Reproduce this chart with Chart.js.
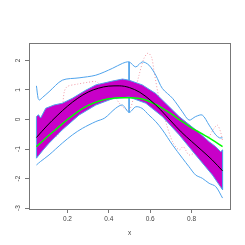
<!DOCTYPE html>
<html>
<head>
<meta charset="utf-8">
<script src="https://cdn.jsdelivr.net/npm/chart.js@4.4.1/dist/chart.umd.min.js"></script>
<style>
  body { margin: 0; background: #fff; }
</style>
</head>
<body>
<canvas id="chart1" width="245" height="245"></canvas>
<script>
// ticks
const xTicks = [0.2, 0.4, 0.6, 0.8];
const yTicks = [-3, -2, -1, 0, 1, 2];

// smooth curves on a common grid
const xGrid = [0.05, 0.10, 0.15, 0.20, 0.25, 0.30, 0.35, 0.40, 0.45, 0.50,
               0.55, 0.60, 0.65, 0.70, 0.75, 0.80, 0.85, 0.90, 0.95];
const meanY = [-0.61, -0.22, 0.13, 0.45, 0.72, 0.93, 1.06, 1.13, 1.14, 1.08,
               0.92, 0.66, 0.33, -0.05, -0.42, -0.74, -1.05, -1.37, -1.74];
const greenY = [-0.92, -0.60, -0.30, 0.00, 0.27, 0.48, 0.62, 0.70, 0.74, 0.74,
                0.71, 0.60, 0.42, 0.20, -0.05, -0.28, -0.48, -0.69, -0.92];

// magenta band (upper edge, lower edge)
const bandUpX = [0.05, 0.06, 0.07, 0.095, 0.135, 0.175, 0.224, 0.288, 0.337, 0.417, 0.466, 0.498,
                 0.562, 0.627, 0.659, 0.74, 0.82, 0.885, 0.917, 0.941, 0.95];
const bandUpY = [0.10, 0.16, 0.05, 0.38, 0.49, 0.55, 0.72, 0.99, 1.17, 1.30, 1.37, 1.33,
                 1.17, 0.88, 0.66, 0.10, -0.35, -0.75, -0.92, -1.09, -1.03];
const bandLoX = [0.05, 0.08, 0.111, 0.175, 0.256, 0.337, 0.417, 0.498, 0.579, 0.659, 0.74, 0.82, 0.901, 0.95];
const bandLoY = [-1.31, -1.05, -0.80, -0.35, 0.15, 0.49, 0.70, 0.76, 0.55, 0.10, -0.52, -1.20, -1.88, -2.38];

// outer blue curves
const upX = [0.05, 0.058, 0.064, 0.08, 0.111, 0.175, 0.256, 0.337, 0.417, 0.466, 0.498, 0.53, 0.562,
             0.594, 0.627, 0.659, 0.708, 0.756, 0.788, 0.82, 0.852, 0.885, 0.917, 0.935, 0.95];
const upY = [1.14, 0.72, 0.66, 0.75, 0.94, 1.33, 1.41, 1.50, 1.73, 1.90, 1.95, 1.78, 1.95,
             1.84, 1.50, 1.05, 0.72, 0.26, -0.02, 0.10, 0.15, -0.19, -0.52, -0.62, -0.62];
const loX = [0.05, 0.07, 0.111, 0.175, 0.224, 0.272, 0.337, 0.38, 0.433, 0.466, 0.498, 0.53, 0.56,
             0.594, 0.627, 0.659, 0.708, 0.756, 0.788, 0.82, 0.852, 0.885, 0.917, 0.95];
const loY = [-1.54, -1.42, -1.20, -0.80, -0.52, -0.30, -0.07, 0.05, 0.38, 0.49, 0.24, 0.43, 0.38,
             0.15, -0.07, -0.35, -0.86, -1.31, -1.60, -1.88, -1.99, -2.16, -2.27, -2.66];
const splitX = 0.498;

// dotted red observations
const obsX = [0.05, 0.08, 0.10, 0.125, 0.15, 0.165, 0.175, 0.185, 0.20, 0.25, 0.30, 0.337, 0.37, 0.40,
              0.433, 0.466, 0.498, 0.52, 0.546, 0.57, 0.59, 0.607, 0.619, 0.643, 0.675, 0.708, 0.74,
              0.76, 0.788, 0.82, 0.85, 0.885, 0.909, 0.925, 0.94, 0.95];
const obsY = [-1.00, -0.75, -0.65, -0.62, -0.55, -0.35, 0.30, 0.95, 1.12, 1.20, 1.26, 1.28, 1.10, 0.95,
              0.72, 0.43, 0.32, 0.75, 1.50, 2.07, 2.25, 2.10, 1.62, 0.72, -0.07, -0.75, -1.03,
              -0.92, -1.20, -1.09, -0.85, -0.58, -0.30, -0.19, -0.41, -0.72];

const pts = (xs, ys) => xs.map((x, i) => ({ x: x, y: ys[i] }));
const bandPts = pts(bandUpX, bandUpY).concat(pts(bandLoX, bandLoY).reverse());
bandPts.push(bandPts[0]);

const blue = '#4FA3EC';
const axisFont = { family: "'Liberation Sans', Arial, sans-serif", size: 6.5 };

// R style box round the plot region
const boxPlugin = {
    id: 'box',
    afterDatasetsDraw(chart) {
        const a = chart.chartArea;
        const c = chart.ctx;
        c.save();
        c.strokeStyle = '#777';
        c.lineWidth = 1;
        c.strokeRect(Math.round(a.left) + 0.5, Math.round(a.top) + 0.5,
                     Math.round(a.right - a.left), Math.round(a.bottom - a.top));
        c.restore();
    }
};

const ctx1 = document.getElementById('chart1').getContext('2d');
const myChart1 = new Chart(ctx1, {
    type: 'line',
    data: {
        datasets: [
            { data: pts(xGrid, meanY), borderColor: '#000', borderWidth: 1,
              cubicInterpolationMode: 'monotone', order: 0 },
            { data: pts(xGrid, greenY), borderColor: '#00FF00', borderWidth: 1.5,
              cubicInterpolationMode: 'monotone', order: 1 },
            { data: bandPts, borderColor: blue, borderWidth: 1, tension: 0,
              backgroundColor: '#C800C8', fill: 'shape', order: 2 },
            { data: pts(upX, upY), borderColor: blue, borderWidth: 1, tension: 0.3, order: 3 },
            { data: pts(loX, loY), borderColor: blue, borderWidth: 1, tension: 0.3, order: 3 },
            { data: pts(obsX, obsY), borderColor: '#F29AA6', borderWidth: 1,
              borderDash: [1, 2], tension: 0.3, order: 4 },
            { data: [{ x: splitX, y: upY[upX.indexOf(splitX)] }, { x: splitX, y: loY[loX.indexOf(splitX)] }],
              borderColor: blue, borderWidth: 1, order: 5 }
        ]
    },
    options: {
        responsive: false,
        animation: false,
        devicePixelRatio: 1,
        layout: { padding: { top: 43, right: 15, left: 0, bottom: 0 } },
        elements: { point: { radius: 0 } },
        plugins: { legend: { display: false }, tooltip: { enabled: false } },
        scales: {
            x: {
                type: 'linear',
                min: 0.014, max: 0.986,
                afterFit: s => { s.height = 36; },
                afterBuildTicks: s => { s.ticks = xTicks.map(v => ({ value: v })); },
                grid: { drawOnChartArea: false, tickLength: 4, color: '#777' },
                border: { color: '#777' },
                ticks: { font: axisFont, color: '#444', padding: 2, maxRotation: 0, autoSkip: false,
                         callback: v => v.toFixed(1) },
                title: { display: true, text: 'x', font: axisFont, color: '#444',
                         padding: { top: 0, bottom: 8 } }
            },
            y: {
                type: 'linear',
                min: -3.03, max: 2.59,
                afterFit: s => { s.width = 29; },
                afterBuildTicks: s => { s.ticks = yTicks.map(v => ({ value: v })); },
                grid: { drawOnChartArea: false, tickLength: 4, color: '#777' },
                border: { color: '#777' },
                ticks: { font: axisFont, color: '#444', padding: 4, minRotation: 90, maxRotation: 90,
                         crossAlign: 'center', autoSkip: false }
            }
        }
    },
    plugins: [boxPlugin]
});
</script>
</body>
</html>
